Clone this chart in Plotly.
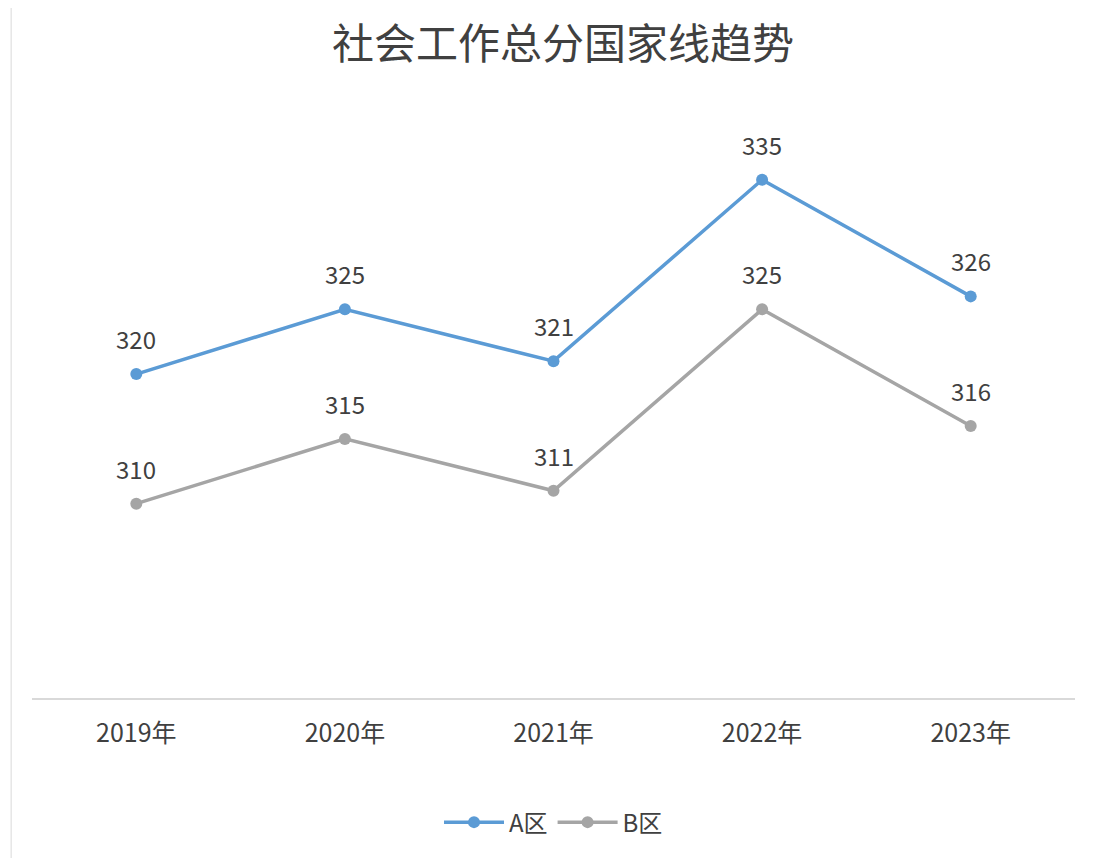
import plotly.graph_objects as go

years = ["2019年", "2020年", "2021年", "2022年", "2023年"]
zone_a = [320, 325, 321, 335, 326]
zone_b = [310, 315, 311, 325, 316]

FONT = "Noto Sans CJK SC"
TEXT = "#404040"

fig = go.Figure()
for name, vals, color in [("A区", zone_a, "#5B9BD5"), ("B区", zone_b, "#A5A5A5")]:
    fig.add_trace(go.Scatter(
        x=years, y=vals, name=name, mode="lines+markers",
        line=dict(color=color, width=3.5),
        marker=dict(color=color, size=12),
    ))
    for yr, v in zip(years, vals):
        fig.add_annotation(x=yr, y=v, text=str(v), showarrow=False,
                           yanchor="bottom", yshift=16,
                           font=dict(size=24, color=TEXT, family=FONT))

fig.update_layout(
    width=1110, height=858,
    paper_bgcolor="white", plot_bgcolor="white",
    title=dict(text="社会工作总分国家线趋势", x=0.5, y=0.975, xanchor="center",
               font=dict(size=42, color=TEXT, family=FONT)),
    margin=dict(l=24, r=43, t=107, b=168),
    showlegend=True,
    legend=dict(orientation="h", x=0.5, xanchor="center", y=-0.175, yanchor="top",
                font=dict(size=24, color=TEXT, family=FONT), itemwidth=60),
    shapes=[dict(type="rect", xref="paper", yref="paper", x0=-0.02, x1=1.04,
                 y0=-0.285, y1=1.19, line=dict(color="#d9d9d9", width=1))],
)
fig.update_xaxes(type="category", range=[-0.5, 4.5], showgrid=False,
                 showline=True, linecolor="#d9d9d9", linewidth=1.5, ticks="",
                 tickfont=dict(size=25, color=TEXT, family=FONT), ticklabelstandoff=12)
fig.update_yaxes(range=[295, 340], visible=False, showgrid=False)

fig.write_html("out.html")
